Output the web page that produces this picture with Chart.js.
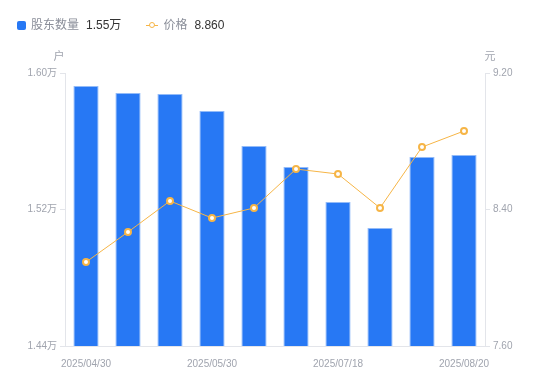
<!DOCTYPE html>
<html>
<head>
<meta charset="utf-8">
<script src="https://cdn.jsdelivr.net/npm/chart.js@4"></script>
<style>
    body { margin: 0; background: #fff; font-family: 'Liberation Sans', 'Noto Sans CJK SC', sans-serif; }
    #wrap { position: relative; width: 550px; height: 381px; }
    #legend { position: absolute; left: 17px; top: 17px; font-size: 12px; line-height: 16px; display: flex; align-items: center; }
    .item { display: flex; align-items: center; margin-right: 25px; }
    .sq { width: 9px; height: 9px; background: #2778f4; border-radius: 2px; margin-right: 5px; }
    .ln { position: relative; width: 12px; height: 9px; margin-right: 5px; }
    .ln::before { content: ''; position: absolute; left: 0; right: 0; top: 4px; height: 1px; background: #f6b546; }
    .ln::after { content: ''; position: absolute; left: 3px; top: 1px; width: 4px; height: 4px; border: 1.5px solid #f6b546; border-radius: 50%; background: #fff; }
    .lab { color: #8a8e99; margin-right: 7px; }
    .val { color: #333; }
</style>
</head>
<body>
<div id="wrap">
    <div id="legend">
        <div class="item"><span class="sq"></span><span class="lab">股东数量</span><span class="val">1.55万</span></div>
        <div class="item"><span class="ln"></span><span class="lab">价格</span><span class="val">8.860</span></div>
    </div>
    <canvas id="chart" width="550" height="381"></canvas>
</div>
<script>
    // dates (only every third one is shown on the axis)
    const dates = ['2025/04/30', '2025/05/10', '2025/05/20', '2025/05/30', '2025/06/20',
                   '2025/06/30', '2025/07/18', '2025/07/31', '2025/08/10', '2025/08/20'];
    // holders, in 万户
    const holders = [1.5924, 1.5883, 1.5877, 1.5777, 1.5572, 1.5449, 1.5244, 1.5092, 1.5508, 1.5520];
    // price, 元
    const prices = [8.092, 8.268, 8.450, 8.350, 8.409, 8.637, 8.608, 8.409, 8.766, 8.860];

    const leftTicks = [1.44, 1.52, 1.60];
    const rightTicks = [7.60, 8.40, 9.20];

    const tickFont = { family: "'Liberation Sans', 'Noto Sans CJK SC', sans-serif", size: 10 };
    const gray = '#a0a4ae';
    const axisLine = '#e3e5ea';

    // unit labels above the two y axes
    const unitTitles = {
        id: 'unitTitles',
        afterDraw(chart) {
            const c = chart.ctx;
            const area = chart.chartArea;
            c.save();
            c.font = "11px 'Liberation Sans', 'Noto Sans CJK SC', sans-serif";
            c.fillStyle = gray;
            c.textAlign = 'center';
            c.textBaseline = 'middle';
            c.fillText('户', area.left - 6, area.top - 16);
            c.fillText('元', area.right + 5, area.top - 16);
            c.restore();
        }
    };

    new Chart(document.getElementById('chart'), {
        data: {
            labels: dates,
            datasets: [{
                type: 'line',
                label: '价格',
                data: prices,
                yAxisID: 'y1',
                borderColor: '#f6b546',
                borderWidth: 1,
                pointRadius: 3,
                pointBorderWidth: 2,
                pointBackgroundColor: '#ffffff',
                pointBorderColor: '#f6b546',
                tension: 0,
                order: 0
            }, {
                type: 'bar',
                label: '股东数量',
                data: holders,
                yAxisID: 'y',
                backgroundColor: '#2778f4',
                borderColor: '#93bbf8',
                borderWidth: 1,
                barPercentage: 0.6,
                categoryPercentage: 1,
                order: 1
            }]
        },
        options: {
            responsive: false,
            animation: false,
            layout: { padding: { top: 73, left: 0, right: 0, bottom: 0 } },
            plugins: {
                legend: { display: false },
                tooltip: { enabled: false }
            },
            scales: {
                x: {
                    afterFit(scale) { scale.height = 35; },
                    grid: { display: false },
                    border: { color: axisLine },
                    ticks: {
                        autoSkip: false,
                        maxRotation: 0,
                        color: gray,
                        font: tickFont,
                        padding: 4,
                        callback(value, index) {
                            return index % 3 === 0 ? dates[index] : '';
                        }
                    }
                },
                y: {
                    position: 'left',
                    min: 1.44,
                    max: 1.60,
                    afterFit(scale) { scale.width = 65; },
                    afterBuildTicks(scale) { scale.ticks = leftTicks.map(v => ({ value: v })); },
                    grid: { drawOnChartArea: false, tickLength: 5, color: axisLine },
                    border: { color: axisLine },
                    ticks: {
                        color: gray,
                        font: tickFont,
                        padding: 3,
                        callback(value) { return value.toFixed(2) + '万'; }
                    }
                },
                y1: {
                    position: 'right',
                    min: 7.6,
                    max: 9.2,
                    afterFit(scale) { scale.width = 65; },
                    afterBuildTicks(scale) { scale.ticks = rightTicks.map(v => ({ value: v })); },
                    grid: { drawOnChartArea: false, tickLength: 5, color: axisLine },
                    border: { color: axisLine },
                    ticks: {
                        color: gray,
                        font: tickFont,
                        padding: 3,
                        callback(value) { return value.toFixed(2); }
                    }
                }
            }
        },
        plugins: [unitTitles]
    });
</script>
</body>
</html>
